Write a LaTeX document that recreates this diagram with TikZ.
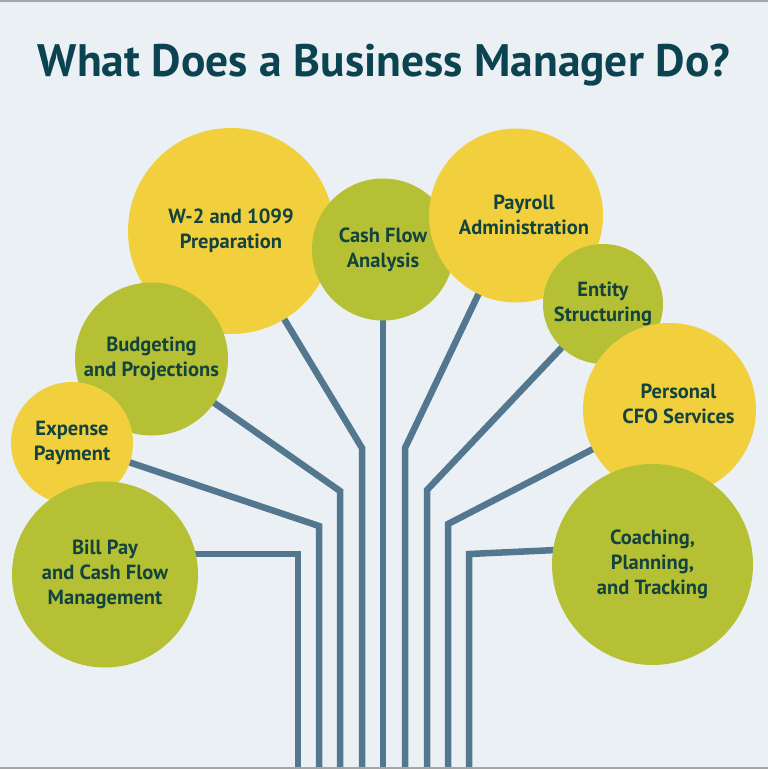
\documentclass[tikz,border=0pt]{standalone}
\usepackage{fontspec}
\setmainfont{PT Sans}
\usetikzlibrary{positioning}
\definecolor{bgblue}{HTML}{EBF0F5}
\definecolor{wireblue}{HTML}{52778F}
\definecolor{sun}{HTML}{F2CF3D}
\definecolor{olive}{HTML}{B6C034}
\definecolor{ink}{HTML}{12433F}
\definecolor{titleink}{HTML}{0C4350}
\pgfdeclarelayer{wires}
\pgfsetlayers{wires,main}

\begin{document}
\begin{tikzpicture}[x=1pt,y=-1pt,
    bubtext/.style={align=center,text=ink,font=\fontsize{20.5}{25}\selectfont\bfseries},
    bubble/.style={circle,inner sep=0pt,bubtext},
    yel/.style={bubble,fill=sun},
    grn/.style={bubble,fill=olive},
    wire/.style={draw=wireblue,line width=6.5pt},
  ]
  \useasboundingbox (0,0) rectangle (768,769);
  \node[anchor=base,text=titleink,font=\fontsize{45.5}{50}\selectfont\bfseries] (title) at (384,76) {What Does a Business Manager Do?};
  % left side
  \node[yel,minimum size=206pt] (w2) at (231,231) {W-2 and 1099\\Preparation};
  \node[grn,minimum size=153pt] (budget) at (151.5,359) {Budgeting\\and Projections};
  \node[yel,minimum size=122pt] (expense) at (72,443) {Expense\\Payment};
  \node[grn,minimum size=186pt] (bill) at (105,574.5) {Bill Pay\\and Cash Flow\\Management};
  % right side
  \node[grn,minimum size=142pt] (cash) at (383,249.5) {Cash Flow\\Analysis};
  \node[yel,minimum size=174pt,
        label={[bubtext,xshift=8pt,yshift=1pt]center:Payroll\\Administration}] (payroll) at (516,215.5) {};
  \node[grn,minimum size=120pt] (entity) at (603,304) {Entity\\Structuring};
  \node[yel,minimum size=173pt,
        label={[bubtext,xshift=9pt,yshift=6pt]center:Personal\\CFO Services}] (cfo) at (669.5,409.5) {};
  \node[grn,minimum size=201pt] (coach) at (652.5,564.5) {Coaching,\\Planning,\\and Tracking};
  % bends
  \coordinate (bot) at (384,769);
  \coordinate (k1) at (298,554);
  \coordinate (k2) at (319,526);
  \coordinate (k3) at (340,491);
  \coordinate (k4) at (362,448);
  \coordinate (k6) at (405,448);
  \coordinate (k7) at (427,490);
  \coordinate (k8) at (448,524);
  \coordinate (k9) at (469,554);
  \coordinate (k9t) at (600,548);
  \begin{pgfonlayer}{wires}
    \fill[bgblue] (0,0) rectangle (768,769);
    \draw[wire] (bill |- k1) -- (k1) -- (k1 |- bot);
    \draw[wire] (expense.center) -- (k2) -- (k2 |- bot);
    \draw[wire] (budget.center) -- (k3) -- (k3 |- bot);
    \draw[wire] (w2.center) -- (k4) -- (k4 |- bot);
    \draw[wire] (cash.center) -- (cash |- bot);
    \draw[wire] (payroll.center) -- (k6) -- (k6 |- bot);
    \draw[wire] (entity.center) -- (k7) -- (k7 |- bot);
    \draw[wire] (cfo.center) -- (k8) -- (k8 |- bot);
    \draw[wire] (k9t) -- (k9) -- (k9 |- bot);
  \end{pgfonlayer}
  \draw[gray!70,line width=2pt] (0,1) -- (768,1);
  \draw[gray!70,line width=2pt] (0,768) -- (768,768);
\end{tikzpicture}
\end{document}
